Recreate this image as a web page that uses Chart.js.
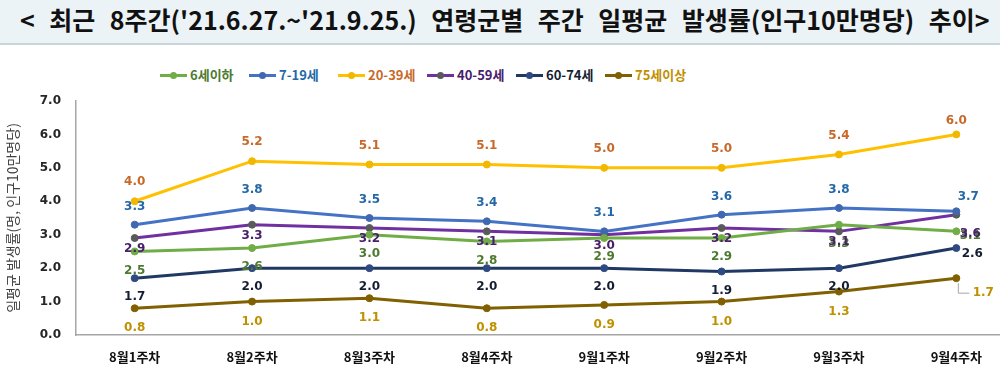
<!DOCTYPE html>
<html>
<head>
  <meta charset="utf-8">
  <title>연령군별 주간 일평균 발생률 추이</title>
<style>
html, body { margin: 0; padding: 0; width: 1000px; height: 374px; overflow: hidden; background: #fff; }
.title-bar {
  position: absolute; left: 0; top: 0; width: 1000px; height: 43px;
  background: #EBF3F6; border-bottom: 2px solid #C8D5DB;
}
.title-bar span {
  position: absolute; left: 20px; top: 1px; white-space: nowrap;
  font-family: "Noto Sans CJK KR"; font-weight: 700; font-size: 25px; color: #111;
}
.legend { position: absolute; left: 160px; top: 65px; display: flex; }
.legend .item { width: 89px; display: flex; align-items: center; font: bold 13px "Noto Sans CJK KR"; line-height: 20px; }
.legend .swatch { position: relative; width: 27px; height: 3px; margin-right: 3px; }
.legend .swatch i { position: absolute; left: 10px; top: -2px; width: 7px; height: 7px; border-radius: 50%; }
.chart-wrap { position: absolute; left: 0; top: 46px; width: 1020px; height: 328px; }
</style>
</head>
<body>
<div class="title-bar"><span id="title">&lt; 최근 8주간('21.6.27.~'21.9.25.) 연령군별 주간 일평균 발생률(인구10만명당) 추이&gt;</span></div>
<div class="legend" id="legend"></div>
<div class="chart-wrap"><canvas id="rateChart"></canvas></div>

<script src="https://cdn.jsdelivr.net/npm/chart.js"></script>
<script>
// data
const weeks = ['8월1주차', '8월2주차', '8월3주차', '8월4주차', '9월1주차', '9월2주차', '9월3주차', '9월4주차'];
const ageGroups = ['6세이하', '7-19세', '20-39세', '40-59세', '60-74세', '75세이상'];
const under6 = [2.5, 2.6, 3.0, 2.8, 2.9, 2.9, 3.3, 3.1];
const age7to19 = [3.3, 3.8, 3.5, 3.4, 3.1, 3.6, 3.8, 3.7];
const age20to39 = [4.0, 5.2, 5.1, 5.1, 5.0, 5.0, 5.4, 6.0];
const age40to59 = [2.9, 3.3, 3.2, 3.1, 3.0, 3.2, 3.1, 3.6];
const age60to74 = [1.7, 2.0, 2.0, 2.0, 2.0, 1.9, 2.0, 2.6];
const over75 = [0.8, 1.0, 1.1, 0.8, 0.9, 1.0, 1.3, 1.7];
const yTicks = [0, 1, 2, 3, 4, 5, 6, 7];

// styles
const lineColors = ['#70AD47', '#4472C4', '#FFC000', '#7030A0', '#203864', '#806000'];
const pointColors = ['#70AD47', '#3F68B0', '#F2B800', '#5A5A5A', '#2F4A80', '#806000'];
const labelColors = ['#4E7A30', '#2468A8', '#C8692A', '#48206A', '#141E33', '#BF9000'];
const labelDy = [19, -18, -19, 11, 19, 20];
// the last column's labels are pushed to the right in the original
const lastShift = [[14, 5], [12, -14], [0, -14], [14, 19], [16, 6], [27, 15]];

const series = [under6, age7to19, age20to39, age40to59, age60to74, over75];

// fit title to the bar
const titleEl = document.getElementById('title');
const spaces = (titleEl.textContent.match(/ /g) || []).length;
const extra = (970 - titleEl.offsetWidth) / spaces;
if (extra > 0) titleEl.style.wordSpacing = extra + 'px';
else { titleEl.style.transformOrigin = '0 0'; titleEl.style.transform = 'scaleX(' + (970 / titleEl.offsetWidth) + ')'; }

// legend
const legendEl = document.getElementById('legend');
ageGroups.forEach((name, i) => {
  const item = document.createElement('div');
  item.className = 'item';
  item.innerHTML = '<span class="swatch" style="background:' + lineColors[i] + '"><i style="background:' + pointColors[i] + '"></i></span>' +
    '<span style="color:' + labelColors[i] + '">' + name + '</span>';
  legendEl.appendChild(item);
});

const valueLabels = {
  id: 'valueLabels',
  afterDatasetsDraw(chart) {
    const ctx = chart.ctx;
    ctx.save();
    ctx.font = 'bold 12px "DejaVu Sans"';
    ctx.textAlign = 'center';
    ctx.textBaseline = 'middle';
    chart.data.datasets.forEach((ds, di) => {
      const meta = chart.getDatasetMeta(di);
      meta.data.forEach((pt, i) => {
        let dx = 0, dy = labelDy[di];
        if (i === ds.data.length - 1) { dx = lastShift[di][0]; dy = lastShift[di][1]; }
        if (di === 5 && i === ds.data.length - 1) {
          ctx.strokeStyle = '#A6A6A6';
          ctx.lineWidth = 1;
          ctx.beginPath();
          ctx.moveTo(pt.x + 2, pt.y + 5);
          ctx.lineTo(pt.x + 2, pt.y + dy);
          ctx.lineTo(pt.x + dx - 14, pt.y + dy);
          ctx.stroke();
        }
        ctx.fillStyle = labelColors[di];
        ctx.fillText(ds.data[i].toFixed(1), pt.x + dx, pt.y + dy);
      });
    });
    ctx.restore();
  }
};

new Chart(document.getElementById('rateChart'), {
  type: 'line',
  data: {
    labels: weeks,
    datasets: series.map((values, i) => ({
      label: ageGroups[i],
      data: values,
      borderColor: lineColors[i],
      backgroundColor: pointColors[i],
      pointBackgroundColor: pointColors[i],
      pointBorderColor: pointColors[i],
      borderWidth: 3,
      pointRadius: 3.5,
      pointBorderWidth: 1,
      tension: 0
    }))
  },
  options: {
    responsive: true,
    maintainAspectRatio: false,
    animation: false,
    layout: { padding: { top: 55, right: 3, bottom: 0, left: 0 } },
    plugins: { legend: { display: false }, tooltip: { enabled: false } },
    scales: {
      x: {
        offset: true,
        afterFit: (scale) => { scale.height = 39; },
        grid: { display: false, drawTicks: false },
        border: { display: true, color: '#A6A6A6', width: 1.5 },
        ticks: { padding: 14, color: '#111', font: { family: 'Noto Sans CJK KR', size: 13, weight: 'bold' } }
      },
      y: {
        min: yTicks[0],
        max: yTicks[yTicks.length - 1],
        afterBuildTicks: (scale) => { scale.ticks = yTicks.map(v => ({ value: v })); },
        afterFit: (scale) => { scale.width = 76; },
        grid: { display: false, drawTicks: false },
        border: { display: true, color: '#A6A6A6', width: 1.5 },
        ticks: {
          padding: 15, color: '#262626',
          font: { family: 'DejaVu Sans', size: 12, weight: 'bold' },
          callback: (v) => Number(v).toFixed(1)
        },
        title: {
          display: true,
          text: '일평균 발생률(명, 인구10만명당)',
          color: '#404040',
          font: { family: 'Noto Sans CJK KR', size: 14 }
        }
      }
    }
  },
  plugins: [valueLabels]
});
</script>
</body>
</html>
